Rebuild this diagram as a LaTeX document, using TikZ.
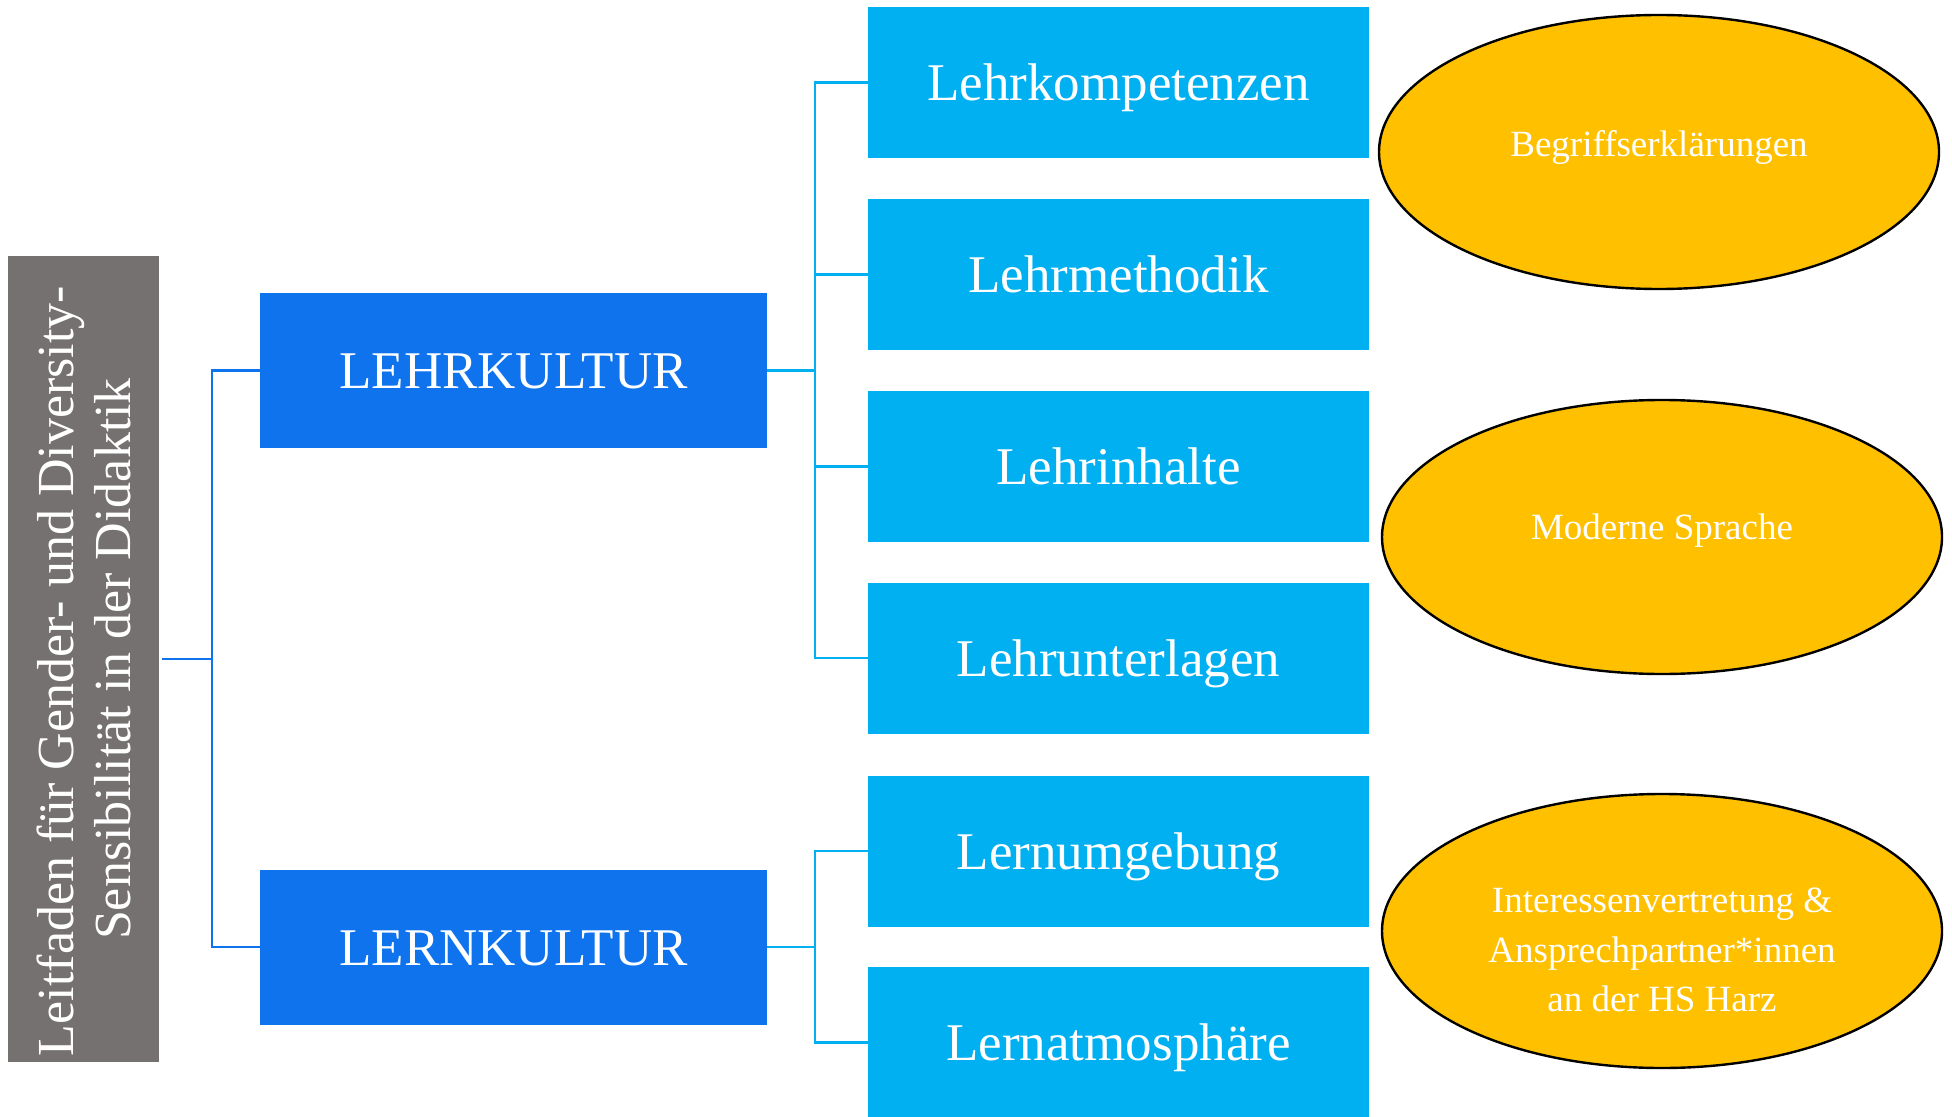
\documentclass[tikz,border=0pt]{standalone}
\usepackage{fontspec}
\setmainfont{Liberation Serif}
\usetikzlibrary{shapes.geometric}
\definecolor{graybox}{HTML}{767171}
\definecolor{darkblue}{HTML}{0F73EE}
\definecolor{cyanbox}{HTML}{00B0F0}
\definecolor{goldell}{HTML}{FFC000}
\begin{document}
\begin{tikzpicture}[x=0.5pt,y=-0.5pt,
  titlebox/.style={rectangle, rotate=90, fill=graybox, text=white, minimum width=403pt, minimum height=75.5pt, inner sep=0pt, align=center, font=\fontsize{26pt}{28.5pt}\selectfont},
  mainbox/.style={rectangle, fill=darkblue, text=white, minimum width=253.5pt, minimum height=77.5pt, inner sep=0pt, text height=18pt, text depth=0pt, font=\fontsize{26.5pt}{30pt}\selectfont},
  subbox/.style={rectangle, fill=cyanbox, text=white, minimum width=250.5pt, minimum height=75.5pt, inner sep=0pt, text height=18pt, text depth=0pt, font=\fontsize{26.5pt}{30pt}\selectfont},
  oval/.style={ellipse, draw=black, line width=1.2pt, fill=goldell, minimum width=280pt, minimum height=137pt, inner sep=0pt},
  ovaltext/.style={text=white, align=center, font=\fontsize{18.5pt}{24.75pt}\selectfont, inner sep=0pt},
  conL/.style={draw=darkblue, line width=1.3pt},
  conR/.style={draw=cyanbox, line width=1.3pt}]
\useasboundingbox (0,0) rectangle (1952,1117);
% title box (rotated: its south anchor is on the right side)
\node[titlebox] (g) at (83.5,659) {Leitfaden für Gender- und Diversity-\rule{12pt}{0pt}\\Sensibilität in der Didaktik};
% main boxes
\node[mainbox] (lehr) at (513.5,370.5) {LEHRKULTUR};
\node[mainbox] (lern) at (513.5,947) {LERNKULTUR};
% sub boxes
\node[subbox] (b1) at (1118.5,82.5) {Lehrkompetenzen};
\node[subbox] (b2) at (1118.5,274.5) {Lehrmethodik};
\node[subbox] (b3) at (1118.5,466.5) {Lehrinhalte};
\node[subbox] (b4) at (1118.5,658) {Lehrunterlagen};
\node[subbox] (b5) at (1118.5,851) {Lernumgebung};
\node[subbox] (b6) at (1118.5,1042.5) {Lernatmosphäre};
% ellipses
\node[oval] (e1) at (1659,152) {};
\node[oval] (e2) at (1662,537) {};
\node[oval] (e3) at (1662,931) {};
\node[ovaltext] (t1) at (1659,147) {Begriffserklärungen};
\node[ovaltext] (t2) at (1662,531) {Moderne Sprache};
\node[ovaltext] (t3) at (1662,950) {Interessenvertretung \&\\Ansprechpartner*innen\\an der HS Harz};
% connectors
\coordinate (j1) at (212,659);
\coordinate (j2) at (815,370.5);
\coordinate (j3) at (815,947);
\draw[conL] ([xshift=1.5pt]g.south) -- (j1);
\draw[conL] (j1) |- (lehr.west);
\draw[conL] (j1) |- (lern.west);
\draw[conR] (lehr.east) -- (j2);
\draw[conR] (j2) |- (b1.west);
\draw[conR] (j2) |- (b2.west);
\draw[conR] (j2) |- (b3.west);
\draw[conR] (j2) |- (b4.west);
\draw[conR] (lern.east) -- (j3);
\draw[conR] (j3) |- (b5.west);
\draw[conR] (j3) |- (b6.west);
\end{tikzpicture}
\end{document}
